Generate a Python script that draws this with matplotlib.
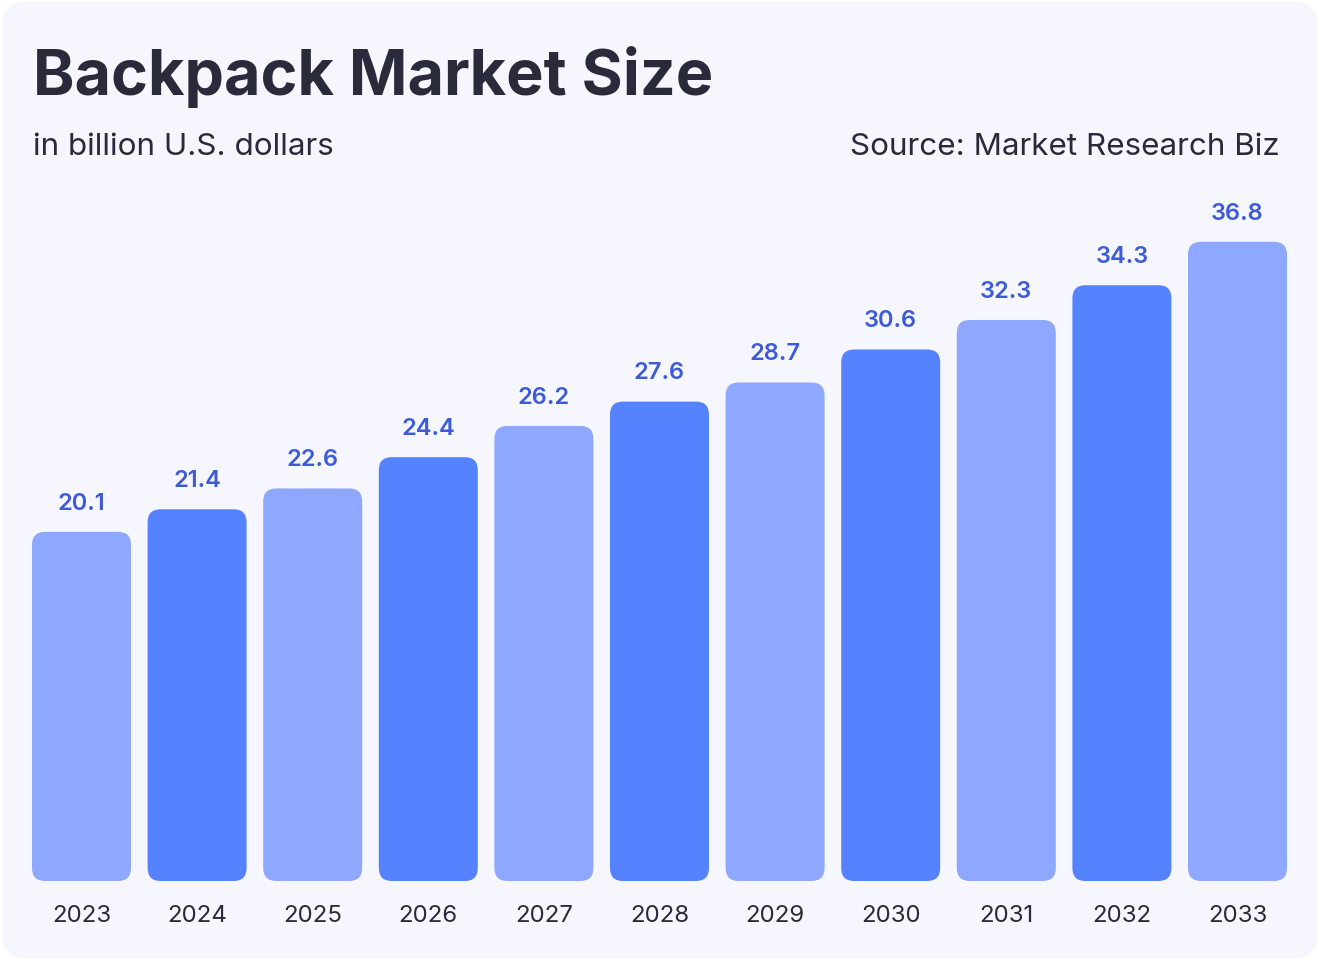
import matplotlib
matplotlib.use("Agg")
import matplotlib.pyplot as plt
from matplotlib.patches import FancyBboxPatch

plt.rcParams["font.family"] = ["Inter", "DejaVu Sans"]

years = ["2023", "2024", "2025", "2026", "2027", "2028", "2029", "2030", "2031", "2032", "2033"]
market_size = [20.1, 21.4, 22.6, 24.4, 26.2, 27.6, 28.7, 30.6, 32.3, 34.3, 36.8]
bar_colors = ["#8FA8FF", "#5582FF"]

W, H = 1320, 960
fig = plt.figure(figsize=(W / 100, H / 100), dpi=100)
fig.patch.set_facecolor("white")

# rounded card behind everything
card = FancyBboxPatch((0.0015, 0.002), 0.997, 0.996, boxstyle="round,pad=0,rounding_size=0.018",
                      transform=fig.transFigure, facecolor="#F5F6FE", edgecolor="none",
                      mutation_aspect=W / H, zorder=-5)
fig.patches.append(card)

# axes placed so bar centres land at 81.5 + 115.6*i px and y=0 at 881 px
px_x = 115.6
px_y = 17.37
left_px = 81.5 - 0.5 * px_x
right_px = 81.5 + 10.5 * px_x
bottom_px = H - 881
top_px = H - 190
ax = fig.add_axes([left_px / W, bottom_px / H, (right_px - left_px) / W, (top_px - bottom_px) / H])
ax.set_zorder(2)
ax.set_xlim(-0.5, 10.5)
ax.set_ylim(0, (top_px - bottom_px) / px_y)
ax.axis("off")

x = list(range(len(years)))
bars = ax.bar(x, market_size, width=99 / px_x)
aspect = px_x / px_y
for i, b in enumerate(bars):
    b.remove()
    patch = FancyBboxPatch((b.get_x(), 0), b.get_width(), b.get_height(),
                           boxstyle="round,pad=0,rounding_size=%f" % (13 / px_x),
                           mutation_aspect=aspect, facecolor=bar_colors[i % 2],
                           edgecolor="none", zorder=2)
    ax.add_patch(patch)
    ax.annotate(f"{market_size[i]:.1f}", (i, market_size[i]), xytext=(0, 16),
                textcoords="offset points", ha="center", va="baseline",
                fontsize=17, fontweight="semibold", color="#3D5BD9", annotation_clip=False)
    ax.annotate(years[i], (i, 0), xytext=(0, -25), textcoords="offset points",
                ha="center", va="center", fontsize=17.3, color="#2A2B3A", annotation_clip=False)

fig.text(33 / W, 1 - 95 / H, "Backpack Market Size", fontsize=45.3, fontweight="bold",
         color="#2A2B3A", va="baseline", ha="left")
fig.text(33 / W, 1 - 155 / H, "in billion U.S. dollars", fontsize=22.6,
         color="#2A2B3A", va="baseline", ha="left")
fig.text(1280 / W, 1 - 155 / H, "Source: Market Research Biz", fontsize=22.6,
         color="#2A2B3A", va="baseline", ha="right")

fig.savefig("out.png", dpi=100, facecolor=fig.get_facecolor())
